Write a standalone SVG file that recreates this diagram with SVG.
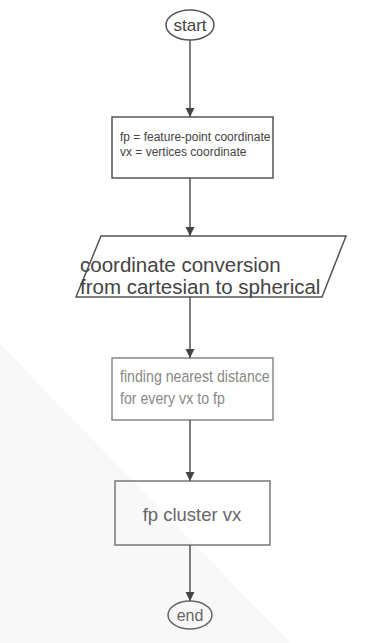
<svg xmlns="http://www.w3.org/2000/svg" width="368" height="643" viewBox="0 0 368 643">
<defs>
<marker id="arr" markerWidth="10" markerHeight="10" refX="9" refY="5" orient="auto" markerUnits="userSpaceOnUse">
<path d="M0,0.5 L9,5 L0,9.5 Z" fill="#444"/>
</marker>
<style>
.s{fill:none;stroke:#555;stroke-width:1.5}
.t{font-family:"Liberation Sans",Arial,sans-serif;fill:#444}
.c{stroke:#555;stroke-width:1.5;fill:none;marker-end:url(#arr)}
</style>
</defs>
<rect width="368" height="643" fill="#fff"/>
<polygon points="0,344 100,447 290,643 0,643" fill="#f8f8f8"/>
<g id="start">
<ellipse class="s" cx="190" cy="25" rx="24" ry="15"/>
<text class="t" x="190" y="31" font-size="17" text-anchor="middle">start</text>
</g>
<g id="define">
<rect class="s" x="112" y="117" width="161" height="61"/>
<text class="t" font-size="13.5" transform="translate(120,141) scale(0.89,1)">fp = feature-point coordinate</text>
<text class="t" font-size="13.5" transform="translate(120,155.5) scale(0.89,1)">vx = vertices coordinate</text>
</g>
<g id="convert">
<polygon class="s" points="101,236 346,236 322,297 76,297"/>
<text class="t" x="80" y="272" font-size="20.5">coordinate conversion</text>
<text class="t" x="80" y="294" font-size="20.5">from cartesian to spherical</text>
</g>
<g id="nearest">
<rect class="s" x="112" y="358" width="161" height="62" style="stroke:#888"/>
<text class="t" font-size="16.5" transform="translate(120,382) scale(0.86,1)" style="fill:#888">finding nearest distance</text>
<text class="t" font-size="16.5" transform="translate(120,404) scale(0.86,1)" style="fill:#888">for every vx to fp</text>
</g>
<g id="cluster">
<rect class="s" x="115" y="481" width="155" height="64" style="stroke:#777"/>
<text class="t" x="192" y="521" font-size="18.5" text-anchor="middle" style="fill:#666">fp cluster vx</text>
</g>
<g id="end">
<ellipse class="s" cx="190" cy="615" rx="22" ry="14" style="stroke:#666"/>
<text class="t" x="190" y="620.5" font-size="16" text-anchor="middle" style="fill:#666">end</text>
</g>
<g id="connectors">
<line class="c" x1="190" y1="40" x2="190" y2="117"/>
<line class="c" x1="190" y1="178" x2="190" y2="236"/>
<line class="c" x1="190" y1="297" x2="190" y2="358"/>
<line class="c" x1="190" y1="420" x2="190" y2="481"/>
<line class="c" x1="190" y1="545" x2="190" y2="601"/>
</g>
</svg>
